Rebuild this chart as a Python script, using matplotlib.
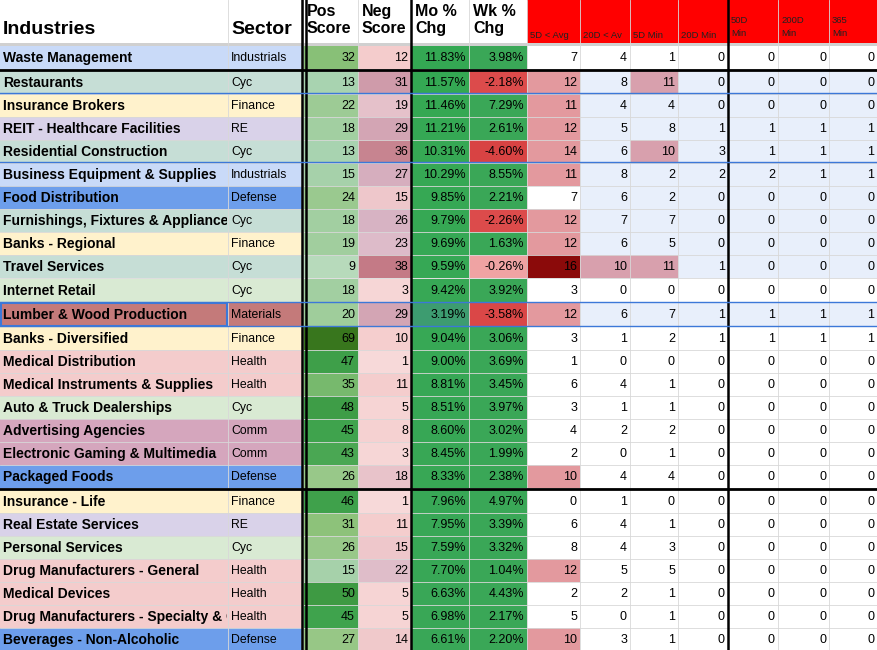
import matplotlib
matplotlib.use("Agg")
import matplotlib.pyplot as plt
from matplotlib.patches import Rectangle
from matplotlib.transforms import Bbox, TransformedBbox
import numpy as np
from matplotlib.colors import to_rgb

industries = ["Waste Management","Restaurants","Insurance Brokers","REIT - Healthcare Facilities","Residential Construction",
 "Business Equipment & Supplies","Food Distribution","Furnishings, Fixtures & Appliances","Banks - Regional","Travel Services",
 "Internet Retail","Lumber & Wood Production","Banks - Diversified","Medical Distribution","Medical Instruments & Supplies",
 "Auto & Truck Dealerships","Advertising Agencies","Electronic Gaming & Multimedia","Packaged Foods","Insurance - Life",
 "Real Estate Services","Personal Services","Drug Manufacturers - General","Medical Devices",
 "Drug Manufacturers - Specialty & Generic","Beverages - Non-Alcoholic"]
sectors = ["Industrials","Cyc","Finance","RE","Cyc","Industrials","Defense","Cyc","Finance","Cyc","Cyc","Materials",
 "Finance","Health","Health","Cyc","Comm","Comm","Defense","Finance","RE","Cyc","Health","Health","Health","Defense"]
pos_score = [32,13,22,18,13,15,24,18,19,9,18,20,69,47,35,48,45,43,26,46,31,26,15,50,45,27]
neg_score = [12,31,19,29,36,27,15,26,23,38,3,29,10,1,11,5,8,3,18,1,11,15,22,5,5,14]
mo_chg = [11.83,11.57,11.46,11.21,10.31,10.29,9.85,9.79,9.69,9.59,9.42,3.19,9.04,9.00,8.81,8.51,8.60,8.45,8.33,
 7.96,7.95,7.59,7.70,6.63,6.98,6.61]
wk_chg = [3.98,-2.18,7.29,2.61,-4.60,8.55,2.21,-2.26,1.63,-0.26,3.92,-3.58,3.06,3.69,3.45,3.97,3.02,1.99,2.38,
 4.97,3.39,3.32,1.04,4.43,2.17,2.20]
d5_avg = [7,12,11,12,14,11,7,12,12,16,3,12,3,1,6,3,4,2,10,0,6,8,12,2,5,10]
d20_avg = [4,8,4,5,6,8,6,7,6,10,0,6,1,0,4,1,2,0,4,1,4,4,5,2,0,3]
d5_min = [1,11,4,8,10,2,2,7,5,11,0,7,2,0,1,1,2,1,4,0,1,3,5,1,1,1]
d20_min = [0,0,0,1,3,2,0,0,0,1,0,1,1,0,0,0,0,0,0,0,0,0,0,0,0,0]
d50_min = [0,0,0,1,1,2,0,0,0,0,0,1,1,0,0,0,0,0,0,0,0,0,0,0,0,0]
d200_min = [0,0,0,1,1,1,0,0,0,0,0,1,1,0,0,0,0,0,0,0,0,0,0,0,0,0]
d365_min = [0,0,0,1,1,1,0,0,0,0,0,1,1,0,0,0,0,0,0,0,0,0,0,0,0,0]
headers = ["Industries","Sector","Pos\nScore","Neg\nScore","Mo %\nChg","Wk %\nChg","5D < Avg","20D < Av","5D Min",
 "20D Min","50D\nMin","200D\nMin","365\nMin"]

sector_col = {"Industrials":"#c9daf8","Cyc":"#d9ead3","Finance":"#fff2cc","RE":"#d9d2e9","Defense":"#6d9eeb",
 "Materials":"#c47a7a","Health":"#f4cccc","Comm":"#d5a6bd"}
teal_rows = {1,4,7,9}
blue_rows = {1,2,3,4,5,6,7,8,9,11}

def interp(stops, v):
    xs=[s[0] for s in stops]; cs=[np.array(to_rgb(s[1])) for s in stops]
    v=min(max(v,xs[0]),xs[-1])
    for i in range(len(xs)-1):
        if xs[i]<=v<=xs[i+1]:
            t=(v-xs[i])/(xs[i+1]-xs[i]); return tuple(cs[i]*(1-t)+cs[i+1]*t)
    return tuple(cs[-1])

pos_c=[(0,"#d9ead3"),(13,"#a8d3b0"),(30,"#93c47d"),(45,"#3fa34d"),(69,"#38761d")]
neg_c=[(0,"#f7dada"),(12,"#f4cccc"),(25,"#d9b8c8"),(38,"#c47a86")]

xs = [0,228,303,358,411,469,527,580,630,678,728,778,829,877]
header_h = 45
row_tops = [46,71,94,117,140,163,186,209,232,255,279,303,327,350,373,396,419,442,465,490,513,536,559,582,605,628]
row_h = 23

fig = plt.figure(figsize=(8.77,6.5), dpi=100)
ax = fig.add_axes([0,0,1,1])
ax.set_xlim(0,877); ax.set_ylim(650,0); ax.axis("off")
FONT="Liberation Sans"

# header
ax.add_patch(Rectangle((527,0),350,header_h,color="#ff0000",lw=0))
ax.add_patch(Rectangle((0,header_h-2),877,3,color="#d0d0d0",lw=0))
for j,h in enumerate(headers):
    if j<2:
        ax.text(xs[j]+3,30,h,fontsize=14,fontweight="bold",family=FONT,va="center")
    elif j<6:
        ax.text(xs[j]+4,20,h,fontsize=11.5,fontweight="bold",family=FONT,va="center",linespacing=1.15)
    elif j<10:
        ax.text(xs[j]+3,35,h,fontsize=6.8,family=FONT,va="center",color="#222")
    else:
        ax.text(xs[j]+3,27,h,fontsize=6.8,family=FONT,va="center",color="#222",linespacing=1.6)

def cell_text(x0,x1,y,s,ha="right",bold=False,size=9,clip=False):
    if ha=="right":
        t=ax.text(x1-3,y,s,ha="right",va="center",fontsize=size,family=FONT,fontweight="bold" if bold else "normal")
    else:
        t=ax.text(x0+3,y,s,ha="left",va="center",fontsize=size,family=FONT,fontweight="bold" if bold else "normal")
    if clip:
        t.set_clip_box(TransformedBbox(Bbox.from_extents(x0,y-12,x1-1,y+12),ax.transData))
        t.set_clip_on(True)

for i in range(len(industries)):
    y0=row_tops[i]; yc=y0+row_h/2+0.5
    sc=sector_col[sectors[i]]
    if sectors[i]=="Cyc" and i in teal_rows: sc="#c6ded6"
    ax.add_patch(Rectangle((0,y0),303,row_h,color=sc,lw=0))
    cell_text(0,228,yc,industries[i],ha="left",bold=True,size=10,clip=True)
    cell_text(228,303,yc,sectors[i],ha="left",size=8.8,clip=True)
    ax.add_patch(Rectangle((303,y0),55,row_h,color=interp(pos_c,pos_score[i]),lw=0))
    ax.add_patch(Rectangle((358,y0),53,row_h,color=interp(neg_c,neg_score[i]),lw=0))
    cell_text(303,358,yc,str(pos_score[i])); cell_text(358,411,yc,str(neg_score[i]))
    moc = interp([(3,"#3d9b72"),(6,"#3aa757"),(12,"#34a853")],mo_chg[i])
    ax.add_patch(Rectangle((411,y0),58,row_h,color=moc,lw=0))
    cell_text(411,469,yc,f"{mo_chg[i]:.2f}%")
    w=wk_chg[i]
    wc = "#3aa757" if w>=0 else interp([(-4.6,"#d84343"),(-2,"#dc4c4c"),(0,"#f2b0b0")],w)
    ax.add_patch(Rectangle((469,y0),58,row_h,color=wc,lw=0))
    cell_text(469,527,yc,f"{w:.2f}%")
    vals=[d5_avg[i],d20_avg[i],d5_min[i],d20_min[i],d50_min[i],d200_min[i],d365_min[i]]
    for k,v in enumerate(vals):
        x0=xs[6+k]; x1=xs[7+k]
        bg = "#e8effb" if (i in blue_rows and k>0) else "white"
        if v>=16: bg="#8b0a0a"
        elif v>=10 and k<3: bg="#e3999e" if k==0 else "#d8a0ad"
        ax.add_patch(Rectangle((x0,y0),x1-x0,row_h,color=bg,lw=0))
        cell_text(x0,x1,yc,str(v))
    ax.plot([0,877],[y0+row_h,y0+row_h],color="#d8d8d8",lw=0.6)

for x in xs[1:-1]:
    ax.plot([x,x],[0,650],color="#d8d8d8",lw=0.6)
for x in (302,306,411,728):
    ax.plot([x,x],[0,650],color="black",lw=1.8)
ax.plot([0,877],[70,70],color="black",lw=2)
ax.plot([0,877],[488.5,488.5],color="black",lw=2)
for y in (93,162,302,326):
    ax.plot([0,877],[y,y],color="#3c78d8",lw=1)
ax.add_patch(Rectangle((1,303),226,23,fill=False,ec="#3c78d8",lw=1.5))
fig.savefig("out.png",dpi=100)
